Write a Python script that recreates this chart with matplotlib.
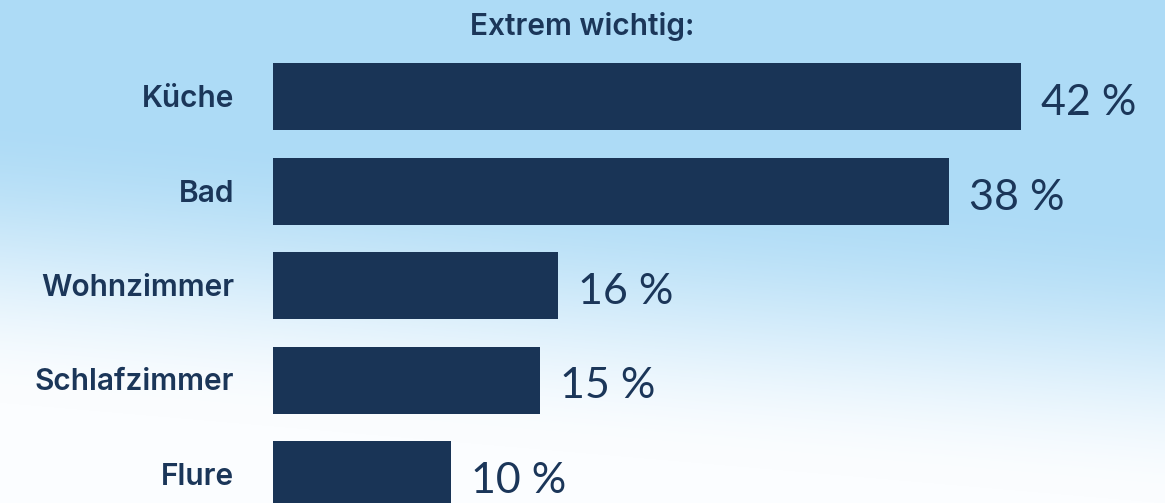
import numpy as np
import matplotlib
matplotlib.use("Agg")
import matplotlib.pyplot as plt
from matplotlib.colors import to_rgb

# Data
categories = ["Küche", "Bad", "Wohnzimmer", "Schlafzimmer", "Flure"]
values = [42, 38, 16, 15, 10]
title = "Extrem wichtig:"

W, H, DPI = 1165, 503, 100
navy = "#193456"
text_col = "#1b3659"

fig = plt.figure(figsize=(W / DPI, H / DPI), dpi=DPI)

# Soft sky-blue background fading to white towards the bottom left
bg = fig.add_axes([0, 0, 1, 1], zorder=0)
bg.set_axis_off()
yy, xx = np.mgrid[0:H, 0:W]
u = yy / H
v = 1 - xx / W
g = u + 0.2 * v
t = np.clip((g - 0.42) / 0.58, 0, 1)
t = t * t * (3 - 2 * t)
blue = np.array(to_rgb("#addbf6"))
white = np.array(to_rgb("#fbfdff"))
img = blue[None, None, :] * (1 - t[..., None]) + white[None, None, :] * t[..., None]
bg.imshow(img, aspect="auto", extent=[0, W, H, 0])
bg.set_xlim(0, W)
bg.set_ylim(H, 0)

# Bar axes
left_px = 273
ax = fig.add_axes([left_px / W, 0, (W - left_px) / W, 1], zorder=1)
ax.patch.set_alpha(0)
px_per_unit = 17.8
ax.set_xlim(0, (W - left_px) / px_per_unit)
row_px = 94.5
first_px = 96.5
ax.set_ylim((H - first_px) / row_px, -first_px / row_px)
ax.set_axis_off()

pos = np.arange(len(categories))
ax.barh(pos, values, height=67 / row_px, color=navy, linewidth=0)

for i, (cat, val) in enumerate(zip(categories, values)):
    ax.annotate(f"{val} %", xy=(val, i), xytext=(20, -18.5),
                textcoords="offset pixels", ha="left", va="baseline",
                fontsize=31, family="Lato", color=text_col)
    ax.annotate(cat, xy=(0, i), xytext=(-39, -10.5),
                textcoords="offset pixels", ha="right", va="baseline",
                fontsize=21.5, family="Inter", fontweight="semibold",
                color=text_col, annotation_clip=False)

fig.text(582 / W, 1 - 35 / H, title, ha="center", va="baseline",
         fontsize=21.5, family="Inter", fontweight="semibold", color=text_col)

fig.savefig("out.png", dpi=DPI)
